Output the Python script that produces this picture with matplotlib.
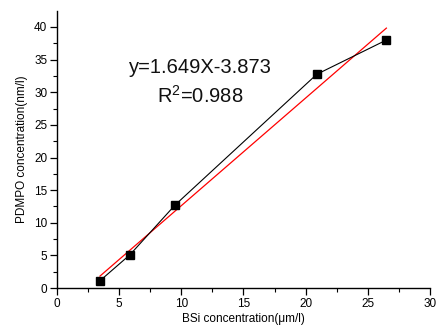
import matplotlib as mpl
mpl.use('Agg')
import matplotlib.pyplot as plt
from matplotlib.ticker import MultipleLocator

# data
bsi = [3.46, 5.87, 9.49, 20.9, 26.5]
pdmpo = [1.12, 5.1, 12.7, 32.75, 38.0]
slope = 1.649
intercept = -3.873
r2 = 0.988

plt.rcParams['font.family'] = ['Liberation Sans', 'DejaVu Sans']
plt.rcParams['mathtext.fontset'] = 'custom'
plt.rcParams['mathtext.rm'] = 'Liberation Sans'

fig = plt.figure(figsize=(4.4, 3.33), dpi=100)
ax = fig.add_axes([0.1295, 0.135, 0.8475, 0.832])

ax.plot(bsi, pdmpo, color='black', lw=0.8, marker='s', ms=6, zorder=3)
fx = [min(bsi), max(bsi)]
fy = [slope * v + intercept for v in fx]
ax.plot(fx, fy, color='red', lw=0.9, zorder=2)

ax.text(0.385, 0.795, 'y=%.3fX%.3f' % (slope, intercept), transform=ax.transAxes,
        ha='center', va='center', fontsize=14.5, color='#111111')
ax.text(0.385, 0.695, r'R$^{\mathregular{2}}$=%.3f' % r2, transform=ax.transAxes,
        ha='center', va='center', fontsize=14.5, color='#111111')

ax.set_xlim(0, 30)
ax.set_ylim(0, 42.45)
ax.xaxis.set_major_locator(MultipleLocator(5))
ax.xaxis.set_minor_locator(MultipleLocator(2.5))
ax.yaxis.set_major_locator(MultipleLocator(5))
ax.yaxis.set_minor_locator(MultipleLocator(2.5))
ax.spines['top'].set_visible(False)
ax.spines['right'].set_visible(False)
for s in ['left', 'bottom']:
    ax.spines[s].set_linewidth(1.0)
ax.tick_params(which='major', direction='out', length=5, width=0.9, labelsize=8.5, pad=2)
ax.tick_params(which='minor', direction='out', length=3, width=0.8)

ax.set_xlabel('BSi concentration(μm/l)', fontsize=8.5, labelpad=2)
ax.set_ylabel('PDMPO concentration(nm/l)', fontsize=8.5, labelpad=4)

fig.savefig('out.png', dpi=100)
